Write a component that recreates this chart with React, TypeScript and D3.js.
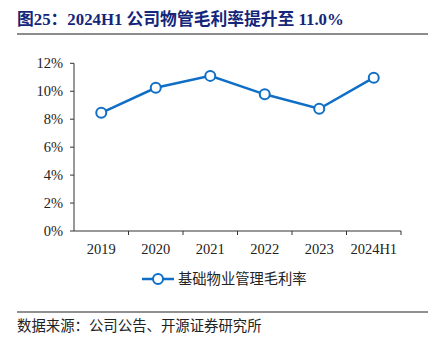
import React from "react";
import * as d3 from "d3";

const categories = ["2019", "2020", "2021", "2022", "2023", "2024H1"];
const grossMargin = [8.46, 10.25, 11.1, 9.78, 8.75, 10.97];
const yTicks = [0, 2, 4, 6, 8, 10, 12];
const seriesName = "基础物业管理毛利率";
const titleText = "图25：2024H1 公司物管毛利率提升至 11.0%";
const sourceText = "数据来源：公司公告、开源证券研究所";

const W = 447;
const H = 348;
const margin = { left: 74, right: 401, top: 63.3, bottom: 231 };
const color = "#0F6FC6";
const serif = "'Liberation Serif', 'Times New Roman', 'Noto Sans CJK SC', serif";
const cjk = "'Liberation Serif', 'Noto Sans CJK SC', sans-serif";

export default function App() {
  const x = d3.scaleBand<string>().domain(categories).range([margin.left, margin.right]);
  const y = d3.scaleLinear().domain([0, 12]).range([margin.bottom, margin.top]);
  const line = d3
    .line<number>()
    .x((_, i) => (x(categories[i]) as number) + x.bandwidth() / 2)
    .y((d) => y(d));
  const boundaries = categories.map((c) => (x(c) as number) + x.bandwidth());

  return (
    <svg width={W} height={H} style={{ position: "absolute", left: 0, top: 0, background: "#fff" }}>
      <text x={17} y={25} fontFamily={cjk} fontWeight="bold" fontSize={16.8} fill="#14267A">
        {titleText}
      </text>
      <line x1={17} x2={428} y1={34} y2={34} stroke="#8c8c8c" strokeWidth={2} />

      {/* y axis */}
      <line x1={margin.left} x2={margin.left} y1={y(12)} y2={y(0)} stroke="#333" strokeWidth={1} />
      {yTicks.map((t) => (
        <g key={t}>
          <line x1={margin.left - 4} x2={margin.left} y1={y(t)} y2={y(t)} stroke="#333" />
          <text
            x={margin.left - 11}
            y={y(t)}
            dy="0.35em"
            textAnchor="end"
            fontFamily={serif}
            fontSize={14.5}
            fill="#222"
          >
            {t}%
          </text>
        </g>
      ))}

      {/* x axis */}
      <line x1={margin.left} x2={margin.right} y1={y(0)} y2={y(0)} stroke="#333" />
      {boundaries.map((b, i) => (
        <line key={i} x1={b} x2={b} y1={y(0)} y2={y(0) + 4} stroke="#333" />
      ))}
      {categories.map((c) => (
        <text
          key={c}
          x={(x(c) as number) + x.bandwidth() / 2}
          y={254}
          textAnchor="middle"
          fontFamily={serif}
          fontSize={14.5}
          fill="#222"
        >
          {c}
        </text>
      ))}

      <path d={line(grossMargin) || ""} fill="none" stroke={color} strokeWidth={2.5} />
      {grossMargin.map((v, i) => (
        <circle
          key={i}
          cx={(x(categories[i]) as number) + x.bandwidth() / 2}
          cy={y(v)}
          r={5}
          fill="#fff"
          stroke={color}
          strokeWidth={2}
        />
      ))}

      {/* legend */}
      <line x1={142} x2={174} y1={279} y2={279} stroke={color} strokeWidth={2.5} />
      <circle cx={158} cy={279} r={5} fill="#fff" stroke={color} strokeWidth={2} />
      <text x={178} y={284} fontFamily={cjk} fontSize={14.3} fill="#222">
        {seriesName}
      </text>

      <line x1={17} x2={428} y1={312} y2={312} stroke="#222" strokeWidth={1} />
      <text x={17} y={331} fontFamily={cjk} fontSize={14.4} fill="#222">
        {sourceText}
      </text>
    </svg>
  );
}
